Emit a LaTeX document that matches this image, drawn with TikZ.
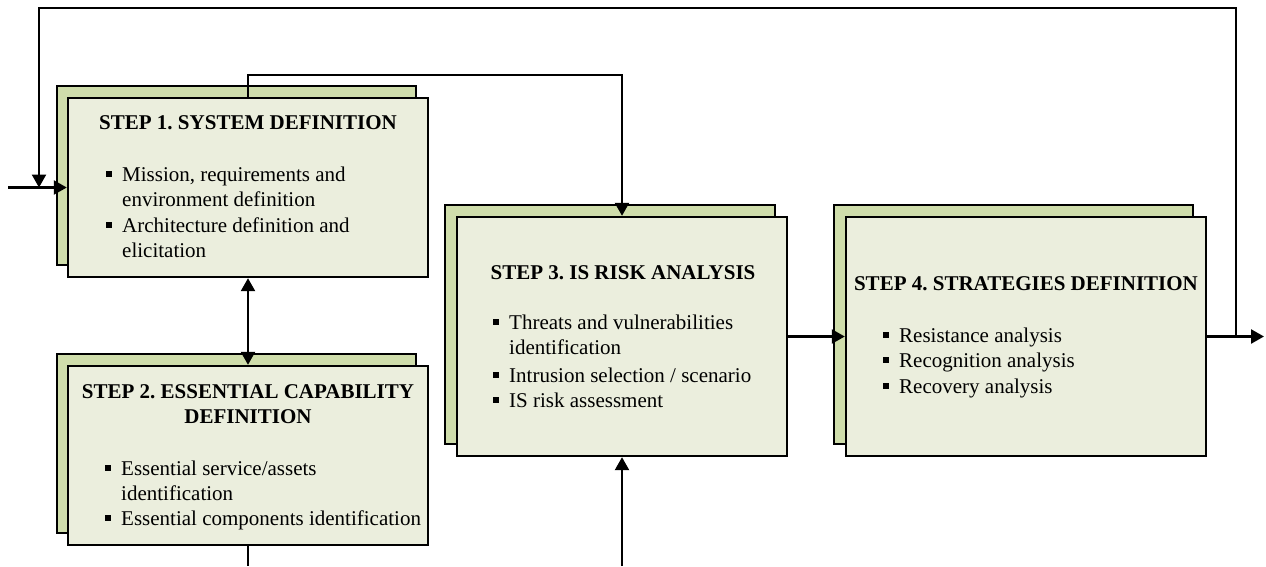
\documentclass[tikz,border=0pt]{standalone}
\usepackage{fontspec}
\setmainfont{Liberation Serif}
\usetikzlibrary{arrows.meta}
\definecolor{frontfill}{HTML}{EBEEDD}
\definecolor{backfill}{HTML}{CFDDAB}
\frenchspacing
\newcommand\bsq{\makebox[16pt][l]{\rule[4.5pt]{6pt}{6pt}}}
\newcommand\ind{\hspace*{16pt}}
\tikzset{
  front/.style={draw=black, line width=2.4pt, fill=frontfill, inner sep=0pt},
  back/.style={draw=black, line width=2.4pt, fill=backfill, inner sep=0pt},
  ttl/.style={inner sep=0pt, anchor=base, font=\fontsize{21}{26}\selectfont\bfseries, align=center},
  itm/.style={inner sep=0pt, anchor=base west, font=\fontsize{21}{25.5}\selectfont},
  conn/.style={line width=2.4pt},
  arr/.style={conn, -{Triangle[length=13pt,width=14pt]}},
  dbl/.style={conn, {Triangle[length=13pt,width=14pt]}-{Triangle[length=13pt,width=14pt]}}
}
\newcommand\itemtext[1]{\parbox[t]{340pt}{\raggedright\frenchspacing #1}}
\begin{document}
\begin{tikzpicture}[x=1pt,y=-1pt]
\useasboundingbox (0,0) rectangle (1266,566);
% back boxes
\node[back, minimum width=359pt, minimum height=179pt] (b1s) at (236.5,175.5) {};
\node[back, minimum width=359pt, minimum height=179pt] (b2s) at (236.5,443.5) {};
\node[back, minimum width=330pt, minimum height=239pt] (b3s) at (610,324.5) {};
\node[back, minimum width=359pt, minimum height=239pt] (b4s) at (1013.5,324.5) {};
% front boxes
\node[front, minimum width=360pt, minimum height=179pt] (b1) at (248,187.5) {};
\node[front, minimum width=360pt, minimum height=179pt] (b2) at (248,455.5) {};
\node[front, minimum width=330pt, minimum height=239pt] (b3) at (622,336.5) {};
\node[front, minimum width=360pt, minimum height=239pt] (b4) at (1026,336.5) {};
% titles
\node[ttl] (t1) at (248,129) {STEP 1. SYSTEM DEFINITION};
\node[ttl] (t2a) at (248,398) {STEP 2. ESSENTIAL CAPABILITY};
\node[ttl] (t2b) at (248,423) {DEFINITION};
\node[ttl] (t3) at (623,279) {STEP 3. IS RISK ANALYSIS};
\node[ttl] (t4) at (1026,290) {STEP 4. STRATEGIES DEFINITION};
% items box 1
\node[itm] (i11) at (106,181) {\itemtext{\bsq Mission, requirements and\\\ind environment definition}};
\node[itm] (i12) at (106,232) {\itemtext{\bsq Architecture definition and\\\ind elicitation}};
% items box 2
\node[itm] (i21) at (105,475) {\itemtext{\bsq Essential service/assets\\\ind identification}};
\node[itm] (i22) at (105,525) {\itemtext{\bsq Essential components identification}};
% items box 3
\node[itm] (i31) at (493,329) {\itemtext{\bsq Threats and vulnerabilities\\\ind identification}};
\node[itm] (i32) at (493,382) {\itemtext{\bsq Intrusion selection / scenario}};
\node[itm] (i33) at (493,407) {\itemtext{\bsq IS risk assessment}};
% items box 4
\node[itm] (i41) at (883,342) {\itemtext{\bsq Resistance analysis}};
\node[itm] (i42) at (883,367) {\itemtext{\bsq Recognition analysis}};
\node[itm] (i43) at (883,393) {\itemtext{\bsq Recovery analysis}};
% coordinates
\coordinate (in) at (8,187.5);
\coordinate (out) at (1264,336.5);
\coordinate (fb0) at (1236,336.5);
\coordinate (fb1) at (1236,8);
\coordinate (fb2) at (39,8);
\coordinate (fb3) at (39,187.5);
\coordinate (up1) at (248,75);
\coordinate (b2end) at (248,566);
\coordinate (b3start) at (622,566);
% connectors
\draw[arr] (in) -- (b1.west);
\draw[arr] (b4.east) -- (out);
\draw[arr] (fb0) -- (fb1) -- (fb2) -- (fb3);
\draw[arr] (b3.east) -- (b4.west);
\draw[arr] (b1.north) -- (up1) -| (b3.north);
\draw[dbl] (b1.south) -- (b2.north);
\draw[conn] (b2.south) -- (b2end);
\draw[arr] (b3start) -- (b3.south);
\end{tikzpicture}
\end{document}
